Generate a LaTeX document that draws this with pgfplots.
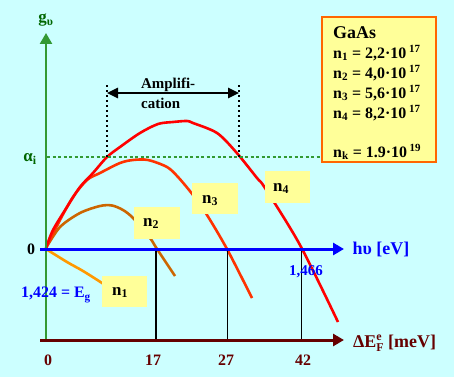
\documentclass[border=0pt]{standalone}
\usepackage{fontspec}
\setmainfont{Liberation Serif}
\usepackage{pgfplots}
\pgfplotsset{compat=1.18}
\usetikzlibrary{arrows.meta}
\definecolor{bg}{HTML}{CCFFFF}
\definecolor{gaxis}{HTML}{339933}
\definecolor{gtext}{HTML}{006600}
\definecolor{baxis}{HTML}{0000FF}
\definecolor{maroon}{HTML}{660000}
\definecolor{cone}{HTML}{FF9900}
\definecolor{ctwo}{HTML}{CC6600}
\definecolor{cthree}{HTML}{FF3300}
\definecolor{cfour}{HTML}{FF0000}
\definecolor{boxy}{HTML}{FFFF99}
\definecolor{boxb}{HTML}{FF6600}
\newcommand{\fs}[1]{\fontsize{#1}{#1}\selectfont\bfseries}
\newcommand{\sups}[1]{\raisebox{6bp}{\fontsize{11}{11}\selectfont\bfseries #1}}
\begin{document}
\begin{tikzpicture}
\begin{axis}[scale only axis, width=454bp, height=377bp,
  xmin=0, xmax=454, ymin=0, ymax=377, y dir=reverse,
  axis line style={draw=none}, ticks=none,
  axis background/.style={fill=bg}, clip=false]
% curves
\addplot[cone, line width=2.6bp, smooth, tension=0.5] coordinates {(46,249) (67,262) (83,271) (102,283) (112,290)};
\addplot[ctwo, line width=2.6bp, smooth, tension=0.5] coordinates {(46,248) (60,227) (80,213) (100,206) (112,205.5) (123,210) (133,218) (150,238) (157,249) (175,276)};
\addplot[cthree, line width=2.6bp, smooth, tension=0.5] coordinates {(46,248) (60,220) (73,197) (87,180) (100,173) (120,163) (133,160) (148,160) (167,167) (178,177) (193,195) (207,215) (227,249) (252,298)};
\addplot[cfour, line width=2.6bp, smooth, tension=0.5] coordinates {(46,248) (53,230) (67,207) (80,187) (93,173) (107,157) (120,147) (140,133) (158,124) (173,122) (187,121) (193,123) (217,133) (236,152) (257,178) (265,188) (300,245) (338,322)};
% alpha_i dotted line
\addplot[gaxis, line width=2bp, dash pattern=on 3bp off 2.5bp] coordinates {(47,157) (322,157)};
% amplification
\addplot[black, line width=2bp, dash pattern=on 2bp off 3bp] coordinates {(107,85) (107,157)};
\addplot[black, line width=2bp, dash pattern=on 2bp off 3bp] coordinates {(239,85) (239,157)};
\addplot[black, line width=2.5bp, {Triangle[length=11bp,width=10bp]}-{Triangle[length=11bp,width=10bp]}] coordinates {(107,93) (239,93)};
% vertical guide lines
\addplot[black, line width=2.5bp] coordinates {(156,249) (156,340)};
\addplot[black, line width=1bp] coordinates {(227,249) (227,340)};
\addplot[black, line width=1bp] coordinates {(301,249) (301,340)};
% axes
\addplot[gaxis, line width=2.5bp, -{Triangle[length=11bp,width=12bp]}] coordinates {(46,340) (46,33)};
\addplot[baxis, line width=3bp, -{Triangle[length=11bp,width=12bp]}] coordinates {(40,249) (344,249)};
\addplot[maroon, line width=3bp, -{Triangle[length=11bp,width=12bp]}] coordinates {(40,340) (344,340)};
% label boxes
\fill[boxy] (axis cs:102,276) rectangle (axis cs:147,307);
\fill[boxy] (axis cs:134,207) rectangle (axis cs:180,239);
\fill[boxy] (axis cs:192,183) rectangle (axis cs:238,214);
\fill[boxy] (axis cs:265,171) rectangle (axis cs:310,203);
\node[anchor=base west, inner sep=0] at (axis cs:112,295) {\fs{17}n\textsubscript{1}};
\node[anchor=base west, inner sep=0] at (axis cs:143,226) {\fs{17}n\textsubscript{2}};
\node[anchor=base west, inner sep=0] at (axis cs:202,203) {\fs{17}n\textsubscript{3}};
\node[anchor=base west, inner sep=0] at (axis cs:273,191) {\fs{17}n\textsubscript{4}};
% legend box
\draw[boxb, fill=boxy, line width=1.2bp] (axis cs:322,17) rectangle (axis cs:436,162);
\begin{scope}
\clip (axis cs:322,17) rectangle (axis cs:436,161);
\node[anchor=base west, inner sep=0] at (axis cs:333,38) {\fs{18}GaAs};
\node[anchor=base west, inner sep=0] at (axis cs:333,58) {\fs{16}n\textsubscript{1} = 2,2·10\,\sups{17}};
\node[anchor=base west, inner sep=0] at (axis cs:333,78) {\fs{16}n\textsubscript{2} = 4,0·10\,\sups{17}};
\node[anchor=base west, inner sep=0] at (axis cs:333,98) {\fs{16}n\textsubscript{3} = 5,6·10\,\sups{17}};
\node[anchor=base west, inner sep=0] at (axis cs:333,118) {\fs{16}n\textsubscript{4} = 8,2·10\,\sups{17}};
\node[anchor=base west, inner sep=0] at (axis cs:333,157) {\fs{16}n\textsubscript{k} = 1.9·10\,\sups{19}};
\end{scope}
% texts
\node[anchor=base west, inner sep=0] at (axis cs:141,88) {\fs{15}Amplifi-};
\node[anchor=base west, inner sep=0] at (axis cs:141,108) {\fs{15}cation};
\node[inner sep=0, text=gtext] at (axis cs:46,20) {\fs{17}g\textsubscript{υ}};
\node[inner sep=0, text=gtext] at (axis cs:30,159) {\fs{17}α\textsubscript{i}};
\node[inner sep=0] at (axis cs:31,249) {\fs{16}0};
\node[inner sep=0, text=baxis] at (axis cs:56,295) {\fs{16}1,424 = E\textsubscript{g}};
\node[inner sep=0, text=baxis] at (axis cs:306,272) {\fs{15}1,466};
\node[inner sep=0, text=baxis] at (axis cs:381,249) {\fs{18}hυ [eV]};
\node[inner sep=0, text=maroon, anchor=base west] at (axis cs:353,347) {\fs{18}ΔE\rlap{\raisebox{7bp}{\fontsize{12}{12}\selectfont\bfseries e}}\raisebox{-4bp}{\fontsize{12}{12}\selectfont\bfseries F} [meV]};
\node[inner sep=0, text=maroon] at (axis cs:48,360) {\fs{16}0};
\node[inner sep=0, text=maroon] at (axis cs:153,360) {\fs{16}17};
\node[inner sep=0, text=maroon] at (axis cs:226,360) {\fs{16}27};
\node[inner sep=0, text=maroon] at (axis cs:303,360) {\fs{16}42};
\end{axis}
\end{tikzpicture}
\end{document}
